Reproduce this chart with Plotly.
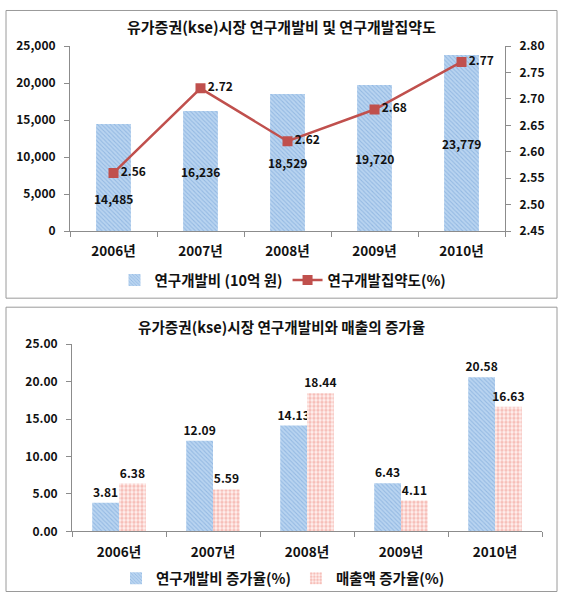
import plotly.graph_objects as go

# ---- data ----
years = ["2006년", "2007년", "2008년", "2009년", "2010년"]
rd_spend = [14485, 16236, 18529, 19720, 23779]          # 10억 원
rd_intensity = [2.56, 2.72, 2.62, 2.68, 2.77]            # %
rd_growth = [3.81, 12.09, 14.13, 6.43, 20.58]            # %
sales_growth = [6.38, 5.59, 18.44, 4.11, 16.63]          # %

title_top = "유가증권(kse)시장 연구개발비 및 연구개발집약도"
title_bottom = "유가증권(kse)시장 연구개발비와 매출의 증가율"
name_spend = "연구개발비 (10억 원)"
name_intensity = "연구개발집약도(%)"
name_rd_growth = "연구개발비 증가율(%)"
name_sales_growth = "매출액 증가율(%)"

# label placement inside bars (fraction of bar height) - styling only
label_frac = [0.3, 0.5, 0.5, 0.5, 0.5]

W, H = 563, 599
FONT = "Noto Sans CJK KR, Malgun Gothic, sans-serif"
BLUE_BG = "#B9D4F0"
BLUE_FG = "#6E9FD6"
RED_BG = "#FFF1EF"
RED_FG = "#EE8E84"
LINE_RED = "#C0504D"
AXIS = "#8C8C8C"

# the photographed page shows a small top band and slight vertical squeeze;
# map target screen rows to paper coordinates accordingly
OFF, SQ = 8.0, 0.971


def px_x(p):
    return p / W


def px_y(p, text=False):
    if text:
        p -= 3
    y = (p - OFF) / SQ
    y = min(max(y, 0.5), H - 0.5)
    return 1 - y / H


fig = go.Figure()

# ---- top chart ----
fig.add_trace(go.Bar(
    x=years, y=rd_spend, name=name_spend, width=0.4,
    marker=dict(color=BLUE_BG, line=dict(width=0),
                pattern=dict(shape="\\", fgcolor=BLUE_FG, bgcolor=BLUE_BG, size=3, solidity=0.35)),
    xaxis="x", yaxis="y", legend="legend", hoverinfo="skip",
))
fig.add_trace(go.Scatter(
    x=years, y=rd_intensity, name=name_intensity, mode="lines+markers+text",
    line=dict(color=LINE_RED, width=2.5),
    marker=dict(symbol="square", size=10, color=LINE_RED),
    text=[f"{v:.2f}" for v in rd_intensity], textposition="middle right",
    textfont=dict(family=FONT, size=12, color="#111", weight="bold"),
    xaxis="x", yaxis="y2", legend="legend", hoverinfo="skip",
))

# ---- bottom chart ----
fig.add_trace(go.Bar(
    x=years, y=rd_growth, name=name_rd_growth,
    marker=dict(color=BLUE_BG, line=dict(width=0),
                pattern=dict(shape="\\", fgcolor=BLUE_FG, bgcolor=BLUE_BG, size=3, solidity=0.35)),
    text=[f"{v:.2f}" for v in rd_growth], textposition="outside", cliponaxis=False,
    constraintext="none",
    textfont=dict(family=FONT, size=12, color="#111", weight="bold"),
    xaxis="x2", yaxis="y3", legend="legend2", hoverinfo="skip",
))
fig.add_trace(go.Bar(
    x=years, y=sales_growth, name=name_sales_growth,
    marker=dict(color=RED_BG, line=dict(width=0),
                pattern=dict(shape=".", fgcolor=RED_FG, bgcolor=RED_BG, size=4, solidity=0.55)),
    text=[f"{v:.2f}" for v in sales_growth], textposition="outside", cliponaxis=False,
    constraintext="none",
    textfont=dict(family=FONT, size=12, color="#111", weight="bold"),
    xaxis="x2", yaxis="y3", legend="legend2", hoverinfo="skip",
))

annotations = []
for yr, v, f in zip(years, rd_spend, label_frac):
    annotations.append(dict(x=yr, y=v * f, xref="x", yref="y", text=f"{v:,}",
                            showarrow=False,
                            font=dict(family=FONT, size=12, color="#111", weight="bold")))
annotations.append(dict(x=px_x(281), y=px_y(27, True), xref="paper", yref="paper", text=title_top,
                        xanchor="center", yanchor="middle",
                        showarrow=False, font=dict(family=FONT, size=15, color="#111", weight="bold")))
annotations.append(dict(x=px_x(281), y=px_y(327, True), xref="paper", yref="paper", text=title_bottom,
                        xanchor="center", yanchor="middle",
                        showarrow=False, font=dict(family=FONT, size=14.6, color="#111", weight="bold")))

ytickfont = dict(family=FONT, size=12, color="#111", weight="bold")
xtickfont = dict(family=FONT, size=13.5, color="#111", weight="bold")
legfont = dict(family=FONT, size=14.5, color="#111", weight="bold")

fig.update_layout(
    width=W, height=H, margin=dict(l=0, r=0, t=0, b=0),
    paper_bgcolor="white", plot_bgcolor="white",
    barmode="group", bargap=0.43, bargroupgap=0,
    showlegend=True,
    font=dict(family=FONT, color="#111"),
    xaxis=dict(domain=[px_x(70), px_x(505)], anchor="y", showline=True, linecolor=AXIS,
               ticks="outside", tickson="boundaries", ticklen=5, tickcolor=AXIS,
               tickfont=xtickfont, showgrid=False, ticklabelstandoff=8),
    yaxis=dict(domain=[px_y(229), px_y(44)], anchor="x", range=[0, 25000], dtick=5000,
               tickformat=",", showline=True, linecolor=AXIS, ticks="outside", ticklen=5,
               tickcolor=AXIS, tickfont=ytickfont, showgrid=False, zeroline=False, ticklabelstandoff=6),
    yaxis2=dict(overlaying="y", side="right", anchor="x", range=[2.45, 2.80], dtick=0.05,
                tickformat=".2f", showline=True, linecolor=AXIS, ticks="outside", ticklen=5,
                tickcolor=AXIS, tickfont=ytickfont, showgrid=False, zeroline=False, ticklabelstandoff=6),
    xaxis2=dict(domain=[px_x(72), px_x(542)], anchor="y3", showline=True, linecolor=AXIS,
                ticks="outside", tickson="boundaries", ticklen=5, tickcolor=AXIS,
                tickfont=xtickfont, showgrid=False, ticklabelstandoff=8),
    yaxis3=dict(domain=[px_y(529), px_y(342)], anchor="x2", range=[0, 25], dtick=5,
                tickformat=".2f", showline=True, linecolor=AXIS, ticks="outside", ticklen=5,
                tickcolor=AXIS, tickfont=ytickfont, showgrid=False, zeroline=False, ticklabelstandoff=6),
    legend=dict(orientation="h", x=px_x(283), xanchor="center", y=px_y(281, True), yanchor="middle",
                font=legfont, bgcolor="rgba(0,0,0,0)", itemwidth=30, tracegroupgap=0),
    legend2=dict(orientation="h", x=px_x(283), xanchor="center", y=px_y(579, True), yanchor="middle",
                 font=legfont, bgcolor="rgba(0,0,0,0)", itemwidth=30, tracegroupgap=0),
    annotations=annotations,
    shapes=[
        dict(type="rect", xref="paper", yref="paper", x0=px_x(6), x1=px_x(557), y0=px_y(296), y1=px_y(5),
             line=dict(color="#9A9A9A", width=1)),
        dict(type="rect", xref="paper", yref="paper", x0=px_x(6), x1=px_x(557), y0=px_y(596), y1=px_y(305),
             line=dict(color="#9A9A9A", width=1)),
    ],
)

fig.write_html("out.html", post_script="document.body.style.margin='0px';",
               config={"displayModeBar": False})
